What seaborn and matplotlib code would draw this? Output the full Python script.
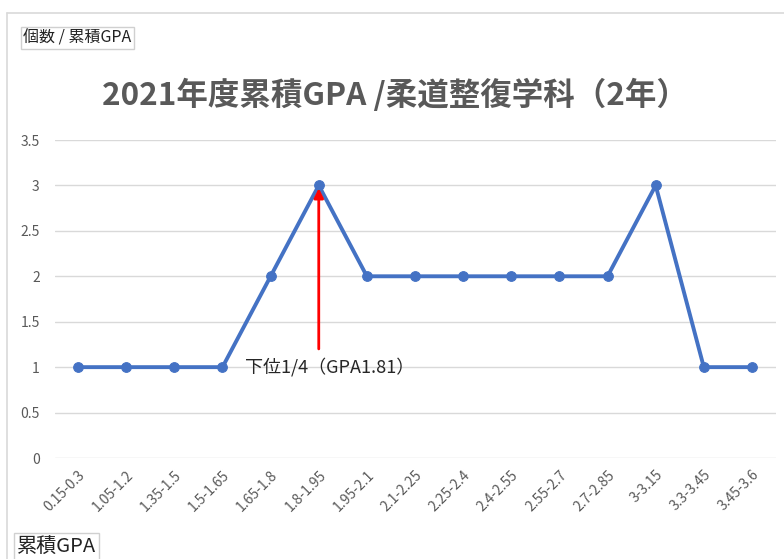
import matplotlib
matplotlib.use('Agg')
import matplotlib.pyplot as plt
import seaborn as sns
import pandas as pd
from matplotlib.lines import Line2D

gpa_ranges = ['0.15-0.3', '1.05-1.2', '1.35-1.5', '1.5-1.65', '1.65-1.8', '1.8-1.95',
              '1.95-2.1', '2.1-2.25', '2.25-2.4', '2.4-2.55', '2.55-2.7', '2.7-2.85',
              '3-3.15', '3.3-3.45', '3.45-3.6']
counts = [1, 1, 1, 1, 2, 3, 2, 2, 2, 2, 2, 2, 3, 1, 1]
y_ticks = [0, 0.5, 1, 1.5, 2, 2.5, 3, 3.5]
y_tick_labels = ['0', '0.5', '1', '1.5', '2', '2.5', '3', '3.5']

sns.set_style('white')
plt.rcParams['font.family'] = ['Noto Sans CJK JP', 'DejaVu Sans']

df = pd.DataFrame({'range': gpa_ranges, 'count': counts})
df['pos'] = range(len(df))

fig = plt.figure(figsize=(7.84, 5.59), dpi=100)
ax = fig.add_axes([55 / 784, 1 - 458 / 559, 721 / 784, 318 / 559])

sns.lineplot(data=df, x='pos', y='count', ax=ax, color='#4472C4', linewidth=2.8,
             marker='o', markersize=7, markeredgecolor='#4472C4')

ax.set_xlim(-0.48, 14.5)
ax.set_ylim(0, 3.5)
ax.set_yticks(y_ticks)
ax.set_yticklabels(y_tick_labels)
ax.set_xticks(df['pos'])
ax.set_xticklabels(gpa_ranges, rotation=45, ha='right', rotation_mode='anchor')
ax.tick_params(axis='x', colors='#595959', labelsize=10, length=0, pad=7)
ax.tick_params(axis='y', colors='#595959', labelsize=10, length=0, pad=11)
ax.grid(axis='y', color='#D9D9D9', linewidth=1)
ax.set_xlabel('')
ax.set_ylabel('')
for s in ax.spines.values():
    s.set_visible(False)

# annotation arrow for lower quartile
ax.annotate('', xy=(5, 3), xytext=(5, 1.17),
            arrowprops=dict(arrowstyle='-|>', color='red', lw=2, mutation_scale=14))
ax.text(3.47, 1.0, '下位1/4（GPA1.81）', fontsize=13, color='#262626', va='center', ha='left')

fig.text(395 / 784, 1 - 95 / 559, '2021年度累積GPA /柔道整復学科（2年）', ha='center', va='center',
         fontsize=22.7, fontweight='bold', color='#595959')

# chart frame
fig.add_artist(Line2D([7 / 784, 7 / 784], [0, 1 - 13 / 559], transform=fig.transFigure,
                      color='#D9D9D9', lw=1.2))
fig.add_artist(Line2D([7 / 784, 1], [1 - 13 / 559, 1 - 13 / 559], transform=fig.transFigure,
                      color='#D9D9D9', lw=1.2))

# axis title boxes
fig.text(23 / 784, 1 - 38 / 559, '個数 / 累積GPA', ha='left', va='center', fontsize=11.5, color='#222222',
         bbox=dict(boxstyle='square,pad=0.15', fc='white', ec='#D0D0D0', lw=1))
fig.text(17 / 784, 1 - 547 / 559, '累積GPA', ha='left', va='center', fontsize=14.5, color='#222222',
         bbox=dict(boxstyle='square,pad=0.15', fc='white', ec='#D0D0D0', lw=1))

fig.savefig('out.png', dpi=100)
